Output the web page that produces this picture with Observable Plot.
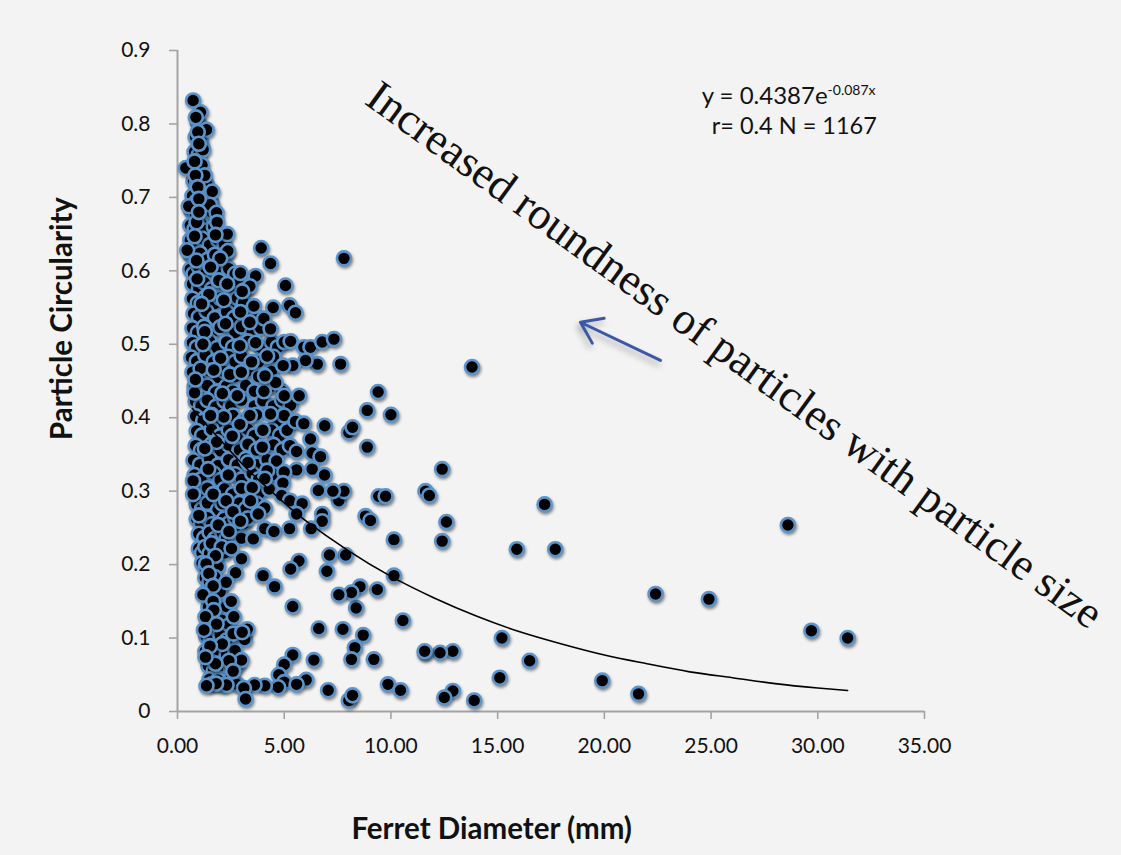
<!DOCTYPE html>
<html><head><meta charset="utf-8">
<script src="https://cdn.jsdelivr.net/npm/d3@7"></script>
<script src="https://cdn.jsdelivr.net/npm/@observablehq/plot@0.6"></script>
<style>
html,body{margin:0;padding:0;background:#f3f3f3;overflow:hidden}
svg{display:block;background:#f3f3f3;font-family:Lato,"Open Sans",sans-serif}
g[aria-label="dot"] circle{filter:drop-shadow(1px 2px 1.5px rgba(0,0,0,.45))}
g[aria-label="arrow"]{filter:drop-shadow(-2px 4px 3px rgba(0,0,0,.3))}
</style></head><body><div id="chart"></div>
<script>
const denseCore = [
[.95,.802],[1.05,.797],[.85,.782],[1.1,.776],[.8,.762],[1,.758],[1.2,.765],[.75,.742],[.95,.737],[1.15,.744],
[.75,.722],[.9,.718],[1.2,.725],[1.4,.716],[.7,.702],[.9,.695],[1.1,.704],[1.4,.698],[1.6,.692],[.65,.682],[.85,.677],[1.05,.684],[1.3,.676],[1.6,.68],
[.6,.662],[.8,.657],[1.1,.664],[1.35,.655],[1.7,.66],[.6,.642],[.85,.636],[1.15,.644],[1.5,.635],[1.9,.642],[2.2,.636],
[.6,.622],[.8,.616],[1.05,.624],[1.4,.615],[1.75,.622],[2.1,.617],[2.3,.624],[.6,.602],[.75,.596],[1,.605],[1.3,.596],[1.6,.604],[2,.597],[2.4,.603],[2.7,.596],
[.7,.582],[1,.576],[1.25,.584],[1.6,.575],[1.95,.583],[2.6,.577],[2.9,.584],[3.2,.575],[.7,.562],[.95,.556],[1.3,.564],[1.7,.555],[2,.563],[2.5,.556],[2.8,.563],[3.1,.556],
[.75,.542],[1,.537],[1.35,.545],[1.75,.536],[2.3,.544],[2.65,.536],[3.3,.543],[3.7,.537],[.7,.522],[.95,.516],[1.25,.524],[1.6,.515],[2,.523],[2.7,.516],[3,.524],[3.5,.516],[3.9,.522],
[.7,.502],[.9,.496],[1.5,.504],[1.85,.495],[2.3,.503],[2.6,.496],[3.3,.504],[3.9,.496],[4.4,.503],[4.7,.496],[.65,.482],[.9,.477],[1.3,.485],[1.7,.476],[2.4,.483],[2.7,.476],[3,.484],[3.8,.476],[4.5,.483],
[.7,.462],[1.2,.456],[1.5,.464],[1.9,.455],[2.2,.463],[2.7,.456],[3.3,.464],[3.8,.456],[4.4,.463],[.8,.442],[1.05,.436],[1.4,.444],[1.8,.435],[2.3,.443],[2.6,.436],[3.2,.444],[3.6,.436],[4.4,.443],[4.9,.436],
[.85,.422],[1.1,.416],[1.4,.424],[1.8,.415],[2.2,.423],[2.5,.416],[3,.424],[3.6,.416],[4,.423],[4.5,.416],[4.9,.424],[5.3,.417],[.85,.402],[1.2,.396],[1.6,.404],[1.95,.395],[2.6,.403],[3.1,.396],[3.7,.404],[4.7,.396],[5,.403],
[.9,.382],[1.15,.376],[1.6,.384],[2,.375],[2.4,.383],[2.8,.376],[3.3,.384],[3.6,.376],[4.4,.383],[4.8,.376],[.85,.362],[1.1,.356],[1.6,.364],[2,.355],[2.4,.363],[2.9,.356],[3.3,.364],[3.7,.356],[4.5,.363],[4.9,.356],
[.75,.342],[1.05,.336],[1.5,.344],[1.9,.335],[2.4,.343],[2.8,.336],[3.2,.344],[3.7,.336],[4.2,.343],[.8,.322],[1.1,.316],[1.7,.324],[2,.315],[2.7,.323],[3,.316],[3.5,.324],[3.8,.316],[4.5,.323],
[.9,.302],[1.2,.296],[1.4,.304],[1.9,.295],[2.2,.303],[2.6,.296],[3,.304],[3.8,.296],[4.3,.303],[.9,.282],[1.15,.276],[1.4,.284],[1.9,.275],[2.1,.283],[2.6,.276],[2.9,.284],[3.2,.276],[3.7,.283],
[.9,.262],[1.1,.256],[1.4,.264],[1.6,.255],[2.2,.263],[2.4,.256],[2.7,.264],[3.1,.256],[3.3,.263],[1,.242],[1.25,.236],[1.5,.244],[1.75,.235],[2.1,.243],[2.3,.236],[2.7,.244],[3,.236],
[1,.222],[1.15,.216],[1.3,.224],[1.5,.215],[1.75,.222],[2.2,.216],[1.15,.202],[1.3,.196],[1.6,.204],[1.9,.197],[1.3,.182],[1.5,.176],[1.75,.183],[1.3,.162],[1.6,.156],[2,.163],[1.45,.142],[1.9,.136],[2.3,.143],
[1.45,.122],[1.7,.116],[2.1,.124],[2.4,.117],[1.35,.102],[1.55,.096],[2,.104],[2.3,.097],[2.85,.104],[3.15,.098],[1.3,.082],[1.55,.076],[1.9,.084],[2.3,.077],[2.7,.083],[1.45,.062],[1.7,.056],[2.1,.063],[2.5,.057],[2.8,.063],[1.5,.044],[1.6,.037],[1.9,.043],[2.1,.036],[2.5,.044],[2.8,.037]
];
const midField = [
[.73,.832],[1.08,.816],[.86,.809],[1.36,.792],[.95,.789],[1,.773],[.39,.74],[.8,.749],[1.28,.73],[.84,.73],[.95,.714],[1.63,.708],[1.52,.69],[.53,.688],[1,.698],[1.83,.679],[1.86,.666],[.89,.666],[1,.68],
[2.33,.65],[1.78,.649],[.8,.647],[.45,.628],[2.36,.627],[2,.617],[.89,.614],[3.92,.631],[4.36,.61],[1.55,.605],[2.95,.597],[3.66,.593],[3.39,.579],[3.03,.572],[5.06,.58],[.92,.589],[1.94,.587],[2.33,.582],
[1.47,.568],[2.17,.56],[5.25,.553],[5.53,.543],[3.58,.552],[4.48,.55],[1.13,.555],[2.95,.544],[4.05,.535],[3.39,.53],[2.25,.528],[4.36,.521],[1.28,.517],[3.66,.502],[2.92,.498],[1.19,.5],[5,.503],[5.3,.504],[5.92,.496],[6.23,.496],[6.78,.503],
[6.55,.473],[6,.478],[5.4,.471],[4.95,.471],[4.2,.484],[3.47,.476],[2.02,.481],[1.08,.467],[1.7,.465],[2.45,.459],[2.99,.462],[4.6,.448],[4.05,.436],[5,.43],[5.7,.43],[.8,.434],[2.1,.433],[2.8,.43],[.84,.452],[4.1,.457],
[4.36,.405],[3.39,.403],[2.17,.401],[1.55,.403],[2.92,.391],[4,.383],[5.14,.383],[5.53,.395],[5.92,.392],[6.23,.371],[2.56,.375],[1.83,.367],[1.28,.358],[3.97,.36],[5.27,.362],[5.58,.354],[6.31,.352],[6.7,.347],[4.64,.341],[3.3,.339],
[5.58,.329],[6.31,.33],[6.89,.322],[1.44,.33],[2.38,.322],[5,.326],[4.2,.328],[4.09,.317],[.73,.314],[4.94,.311],[3.5,.305],[.73,.296],[1.67,.296],[6.6,.301],[3.42,.287],[2.28,.287],[4.88,.294],[5.27,.287],[5.84,.283],[4.09,.277],[2.6,.272],[1,.267],
[5.58,.269],[6.78,.269],[6.78,.259],[3.78,.269],[2.95,.259],[1.91,.254],[2.41,.245],[4.09,.249],[4.52,.245],[5.25,.249],[6.26,.249],[3.55,.235],[1.59,.229],[2.07,.224],[2.53,.222],[1.78,.212],[3,.208],[1.34,.201],
[5.69,.205],[5.3,.194],[2.72,.189],[1.47,.188],[4.01,.185],[2.28,.176],[1.67,.171],[4.55,.17],[1.19,.159],[1.67,.15],[2.52,.15],[5.4,.143],[1.7,.138],[1.31,.129],[2.64,.129],[1.83,.119],[1.24,.111],[3.27,.112],[2.61,.106],[3.03,.108],
[2.1,.092],[1.52,.089],[5.4,.077],[6.39,.07],[3,.07],[2.41,.069],[1.78,.065],[1.31,.074],[5,.064],[2.61,.055],[4.75,.05],[6.03,.043],[5,.04],[5.58,.037],[4.72,.033],[4.09,.035],[3.61,.036],[3.11,.032],[3.19,.017],[2.3,.036],[1.81,.038],[1.36,.035]
];
const sparseField = [
[31.4,.1],[29.7,.11],[28.6,.254],[24.9,.153],[22.4,.16],[21.6,.024],[19.9,.042],[17.7,.221],[17.2,.282],[15.9,.221],[16.5,.069],[15.2,.1],[15.1,.046],[13.9,.015],[13.8,.469],[12.9,.082],[12.9,.028],[12.5,.019],[12.3,.08],[11.6,.08],
[12.4,.33],[12.6,.258],[12.4,.232],[11.62,.3],[11.8,.294],[10.56,.124],[10.14,.185],[10.14,.234],[10,.404],[9.4,.435],[8.89,.36],[8.89,.41],[8.81,.266],[9.04,.26],[9.43,.293],[9.75,.293],[9.36,.166],[9.2,.071],[9.86,.037],[10.45,.029],
[8.7,.104],[8.55,.17],[8.37,.141],[8.15,.162],[8.31,.087],[8.15,.071],[7.75,.112],[7.56,.159],[7.88,.213],[7.8,.617],[7.64,.473],[7.33,.507],[6.9,.389],[7.56,.287],[7.8,.3],[7.28,.3],[7.12,.213],[7,.191],[8.03,.015],[8.2,.022],[7.06,.029],[8.03,.38],[8.2,.387],[6.62,.113],[11.58,.082]
];
const points = [...denseCore, ...midField, ...sparseField];

const trendX = [.7,1.4,2,3,4,5,6,8,10,12,14,16,18,20,22,24,26,28,30,31.4];
const trendY = [.4125,.389,.370,.338,.310,.284,.260,.219,.184,.155,.130,.109,.092,.077,.065,.054,.046,.038,.032,.0286];
const trend = trendX.map((x,i)=>({x,y:trendY[i]}));

const xTicks = [0,5,10,15,20,25,30,35];
const yTicks = [0,.1,.2,.3,.4,.5,.6,.7,.8,.9];
const arrowLine = {x1:22.63,y1:.478,x2:18.88,y2:.530};
const note = {text:"Increased roundness of particles with particle size", x:9.1, y:.8445};
const eq1 = {text:"y = 0.4387e", x:30.46, y:.838};
const eq2 = {text:"-0.087x", x:30.46, y:.846};
const eq3 = {text:"r= 0.4 N = 1167", x:28.9, y:.797};
const xTitle = {text:"Ferret Diameter (mm)", x:14.72, y:-.161};
const yTitle = {text:"Particle Circularity", x:-5.4, y:.535};

const axisGray = "#a3a3a3";
const chart = Plot.plot({
  width:1121, height:855,
  marginLeft:177, marginRight:197, marginTop:50, marginBottom:144,
  style:{background:"#f3f3f3", fontFamily:"Lato, 'Open Sans', sans-serif", overflow:"hidden"},
  x:{domain:[0,35]}, y:{domain:[0,.9]},
  marks:[
    Plot.ruleX([0],{stroke:axisGray,strokeWidth:2}),
    Plot.ruleY([0],{stroke:axisGray,strokeWidth:2}),
    Plot.axisX({ticks:xTicks,tickFormat:d=>d.toFixed(2),tickSize:8,stroke:axisGray,strokeWidth:1.6,tickPadding:19,fontSize:21,fill:"#111",label:null}),
    Plot.axisY({ticks:yTicks,tickFormat:d=>d===0?"0":String(d),tickSize:8,stroke:axisGray,strokeWidth:1.6,tickPadding:19,fontSize:21,fill:"#111",label:null}),
    Plot.dot(points,{x:d=>d[0],y:d=>d[1],r:7,fill:"#000",stroke:"#5b94cb",strokeWidth:2.6}),
    Plot.line(trend,{x:"x",y:"y",stroke:"#000",strokeWidth:1.6,curve:"natural"}),
    Plot.arrow([arrowLine],{x1:"x1",y1:"y1",x2:"x2",y2:"y2",stroke:"#3a57a8",strokeWidth:3,bend:0,headLength:12,headAngle:70}),
    Plot.text([note],{x:"x",y:"y",text:"text",rotate:36,textAnchor:"start",fontSize:45,fontFamily:"'Liberation Serif',serif",fill:"#111",style:{letterSpacing:"1px"}}),
    Plot.text([eq1],{x:"x",y:"y",text:"text",textAnchor:"end",fontSize:24,fill:"#111"}),
    Plot.text([eq2],{x:"x",y:"y",text:"text",textAnchor:"start",fontSize:14,fill:"#111"}),
    Plot.text([eq3],{x:"x",y:"y",text:"text",textAnchor:"middle",fontSize:23.5,fill:"#111"}),
    Plot.text([xTitle],{x:"x",y:"y",text:"text",textAnchor:"middle",fontSize:29.5,fontWeight:700,fill:"#111"}),
    Plot.text([yTitle],{x:"x",y:"y",text:"text",textAnchor:"middle",rotate:-90,fontSize:29.5,fontWeight:700,fill:"#111"})
  ]
});
document.getElementById("chart").append(chart);
</script></body></html>
